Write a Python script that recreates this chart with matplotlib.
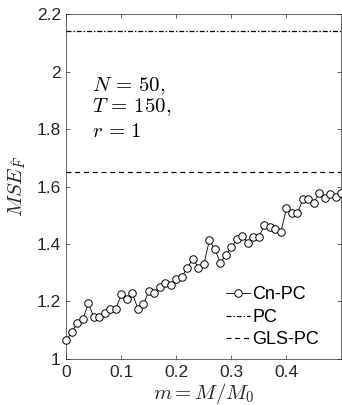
import numpy as np
import matplotlib
matplotlib.use("Agg")
import matplotlib.pyplot as plt

plt.rcParams['mathtext.fontset'] = 'cm'
plt.rcParams['font.family'] = ['Liberation Sans', 'DejaVu Sans']

m_values = [0.00, 0.01, 0.02, 0.03, 0.04, 0.05, 0.06, 0.07, 0.08, 0.09,
            0.10, 0.11, 0.12, 0.13, 0.14, 0.15, 0.16, 0.17, 0.18, 0.19,
            0.20, 0.21, 0.22, 0.23, 0.24, 0.25, 0.26, 0.27, 0.28, 0.29,
            0.30, 0.31, 0.32, 0.33, 0.34, 0.35, 0.36, 0.37, 0.38, 0.39,
            0.40, 0.41, 0.42, 0.43, 0.44, 0.45, 0.46, 0.47, 0.48, 0.49, 0.50]
cn_pc = [1.065, 1.095, 1.124, 1.138, 1.194, 1.145, 1.145, 1.159, 1.174, 1.174,
         1.225, 1.210, 1.228, 1.175, 1.190, 1.236, 1.231, 1.251, 1.265, 1.256,
         1.278, 1.286, 1.318, 1.348, 1.318, 1.330, 1.414, 1.381, 1.335, 1.362,
         1.388, 1.417, 1.428, 1.405, 1.423, 1.425, 1.466, 1.460, 1.451, 1.443,
         1.524, 1.507, 1.507, 1.557, 1.557, 1.544, 1.579, 1.561, 1.573, 1.565, 1.579]
pc_value = 2.142
gls_pc_value = 1.652

x_ticks = [0, 0.1, 0.2, 0.3, 0.4]
x_tick_labels = ['0', '0.1', '0.2', '0.3', '0.4']
y_ticks = [1, 1.2, 1.4, 1.6, 1.8, 2, 2.2]
y_tick_labels = ['1', '1.2', '1.4', '1.6', '1.8', '2', '2.2']

fig = plt.figure(figsize=(3.42, 4.05), dpi=100)
ax = fig.add_axes([0.194, 0.1136, 0.8045, 0.8518])

ax.plot(m_values, cn_pc, color='black', lw=0.6, marker='o', ms=5.4,
        mfc='white', mec='black', mew=0.7, label='Cn-PC', clip_on=False, zorder=3)
ax.axhline(pc_value, color='black', lw=0.9, ls='-.', dashes=(4, 1.5, 1.2, 1.5), label='PC')
ax.axhline(gls_pc_value, color='black', lw=0.9, ls='--', dashes=(4, 3), label='GLS-PC')

ax.set_xlim(0, 0.5)
ax.set_ylim(1, 2.2)
ax.set_xticks(x_ticks)
ax.set_xticklabels(x_tick_labels)
ax.set_yticks(y_ticks)
ax.set_yticklabels(y_tick_labels)
ax.tick_params(direction='in', top=True, right=True, length=3, width=0.5,
               labelsize=12.5, colors='#262626', pad=4)
for s in ax.spines.values():
    s.set_linewidth(0.5)
    s.set_color('#262626')

ax.set_xlabel(r'$m = M/M_0$', fontsize=15, color='#262626', labelpad=1)
ax.set_ylabel(r'$MSE_{\hat{F}}$', fontsize=15, color='#262626')
ax.yaxis.set_label_coords(-0.14, 0.5)

ax.text(0.095, 0.777, r'$N\,=\,50,$', transform=ax.transAxes, fontsize=15)
ax.text(0.095, 0.716, r'$T\,=\,150,$', transform=ax.transAxes, fontsize=15)
ax.text(0.095, 0.643, r'$r\,=\,1$', transform=ax.transAxes, fontsize=15)

leg = ax.legend(loc='lower right', frameon=False, fontsize=13, handlelength=1.3,
                handletextpad=0.15, labelspacing=0.3, borderaxespad=0.0,
                bbox_to_anchor=(0.945, 0.01))

fig.savefig('out.png', dpi=100)
